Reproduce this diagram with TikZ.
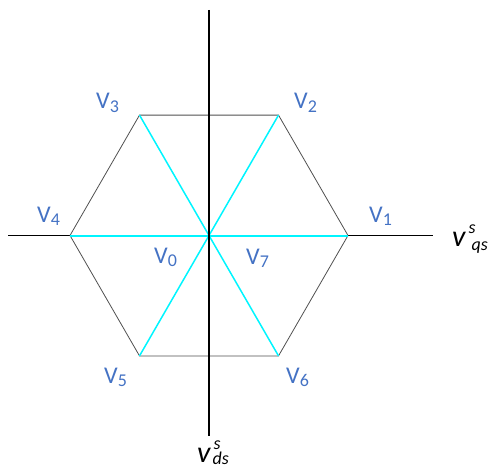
\documentclass[tikz,border=0pt]{standalone}
\usepackage{fontspec}
\setmainfont{Carlito}
\definecolor{lblblue}{RGB}{68,114,196}
\definecolor{hexgray}{RGB}{80,80,80}
\definecolor{spoke}{RGB}{0,245,255}
\newcommand{\vlab}[1]{V{\fontsize{18}{18}\selectfont\raisebox{-3pt}{#1}}}
\begin{document}
\begin{tikzpicture}[x=1pt,y=-1pt,
  axis/.style={draw=black,line width=1.6pt},
  haxis/.style={draw=black,line width=1.3pt},
  hexedge/.style={draw=hexgray,line width=0.8pt},
  spokeline/.style={draw=spoke,line width=1.5pt},
  hspokeline/.style={draw=spoke,line width=2pt},
  vlabel/.style={text=lblblue,font=\fontsize{24}{24}\selectfont,inner sep=0pt,anchor=base west},
  axlabel/.style={text=black,font=\fontsize{30}{30}\selectfont\itshape,inner sep=0pt,anchor=base west}]
\useasboundingbox (0,0) rectangle (489,468);
% axis ends
\coordinate (xl) at (8,235.5);
\coordinate (xr) at (433,235.5);
\coordinate (yt) at (209,10);
\coordinate (yb) at (209,436);
% hexagon vertices
\coordinate (O) at (209,235.5);
\coordinate (P1) at (348,235.5);
\coordinate (P2) at (278.5,115.1);
\coordinate (P3) at (139.5,115.1);
\coordinate (P4) at (70,235.5);
\coordinate (P5) at (139.5,355.9);
\coordinate (P6) at (278.5,355.9);
% horizontal axis (outside hexagon)
\draw[haxis] (xl) -- (P4);
\draw[haxis] (P1) -- (xr);
% hexagon
\draw[hexedge] (P1) -- (P2) -- (P3) -- (P4) -- (P5) -- (P6) -- cycle;
% spokes
\draw[hspokeline] (P4) -- (P1);
\draw[spokeline] (P3) -- (P6);
\draw[spokeline] (P2) -- (P5);
% vertical axis on top
\draw[axis] (yt) -- (yb);
% labels
\node[vlabel] (L1) at (369,222) {\vlab{1}};
\node[vlabel] (L2) at (294,109) {\vlab{2}};
\node[vlabel] (L3) at (96,109) {\vlab{3}};
\node[vlabel] (L4) at (37,222) {\vlab{4}};
\node[vlabel] (L5) at (104,383) {\vlab{5}};
\node[vlabel] (L6) at (286,383) {\vlab{6}};
\node[vlabel] (L0) at (154,263) {\vlab{0}};
\node[vlabel] (L7) at (246,264) {\vlab{7}};
\node[axlabel] (Lq) at (452,246) {v\rlap{\fontsize{18}{18}\selectfont\kern3pt\raisebox{13pt}{s}}{\fontsize{18}{18}\selectfont\kern6pt\raisebox{-4pt}{qs}}};
\node[axlabel] (Ld) at (197,462) {v\rlap{\fontsize{18}{18}\selectfont\kern3pt\raisebox{13pt}{s}}{\fontsize{18}{18}\selectfont\kern2pt\raisebox{-2pt}{ds}}};
\end{tikzpicture}
\end{document}
